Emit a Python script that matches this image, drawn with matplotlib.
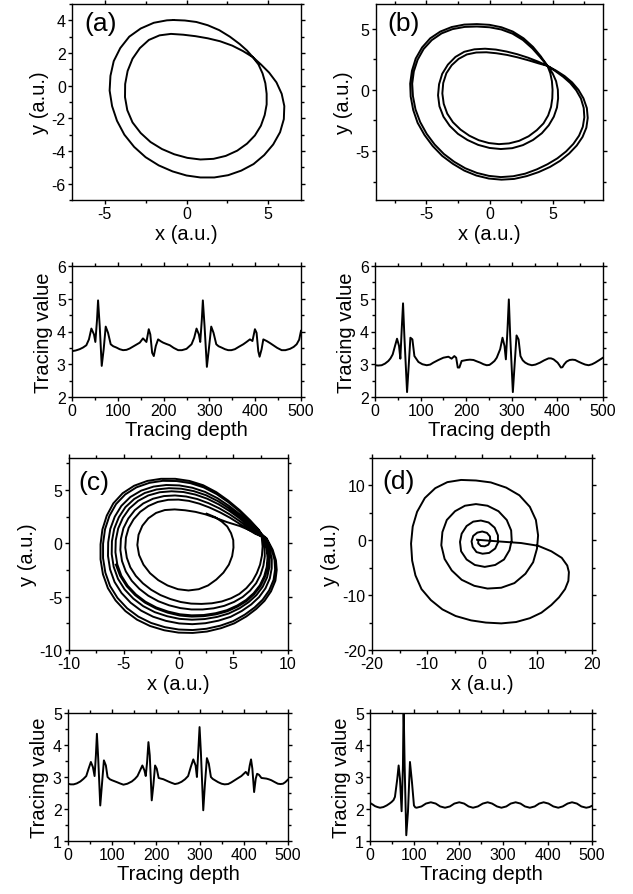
import matplotlib
matplotlib.use("Agg")
import matplotlib.pyplot as plt
from matplotlib.ticker import MultipleLocator

plt.rcParams['font.family'] = ['Liberation Sans', 'DejaVu Sans']
plt.rcParams['axes.unicode_minus'] = False

# ================= data: phase portraits =================
# (a) period-2 orbit: outer top -> inner loop -> outer loop
xa = [-0.8, -0.1, 0.6, 1.3, 2.0, 2.65, 3.25, 3.7, 4.05, 4.4, 4.65, 4.82, 4.9, 4.9, 4.78, 4.55,
      4.18, 3.7, 3.1, 2.4, 1.65, 0.85, 0.05, -0.75, -1.5, -2.2, -2.8, -3.3, -3.62, -3.76, -3.75,
      -3.6, -3.3, -2.85, -2.3, -1.65, -0.95, -0.2, 0.55, 1.3, 2.05, 2.8, 3.45, 4.05, 4.55, 5.05,
      5.5, 5.82, 5.98, 5.95, 5.72, 5.3, 4.75, 4.1, 3.35, 2.55, 1.7, 0.85, 0.0, -0.85, -1.7, -2.5,
      -3.2, -3.8, -4.25, -4.55, -4.7, -4.65, -4.45, -4.05, -3.5, -2.8, -2.0, -1.2, -0.8]
ya = [4.02, 3.99, 3.9, 3.7, 3.4, 3.0, 2.55, 2.15, 1.75, 1.3, 0.75, 0.15, -0.5, -1.15, -1.8, -2.45,
      -3.05, -3.55, -3.98, -4.3, -4.48, -4.52, -4.42, -4.2, -3.88, -3.45, -2.9, -2.25, -1.5, -0.7,
      0.1, 0.9, 1.65, 2.3, 2.8, 3.08, 3.17, 3.12, 3.03, 2.9, 2.72, 2.45, 2.12, 1.75, 1.3, 0.8,
      0.2, -0.5, -1.25, -2.05, -2.85, -3.6, -4.25, -4.8, -5.2, -5.48, -5.62, -5.62, -5.5, -5.25,
      -4.88, -4.38, -3.75, -3.0, -2.15, -1.25, -0.3, 0.6, 1.5, 2.3, 3.0, 3.5, 3.85, 4.0, 4.02]

# (b) period-4 orbit: crossing point, inner loop 1, outer loop 1, inner loop 2, outer loop 2
b_cross_x = [4.6]
b_cross_y = [1.95]
b_in1_x = [5.0, 5.28, 5.42, 5.44, 5.35, 5.1, 4.7, 4.15, 3.45, 2.65, 1.8, 0.9, 0.0, -0.9, -1.75,
           -2.5, -3.15, -3.65, -3.97, -4.08, -4.0, -3.75, -3.3, -2.7, -2.0, -1.2, -0.35, 0.5,
           1.35, 2.2, 3.05, 3.85, 4.6]
b_in1_y = [1.35, 0.7, 0.0, -0.7, -1.45, -2.2, -2.9, -3.55, -4.1, -4.52, -4.77, -4.84, -4.75,
           -4.5, -4.1, -3.6, -2.95, -2.2, -1.35, -0.45, 0.45, 1.3, 2.05, 2.68, 3.1, 3.3, 3.35,
           3.28, 3.12, 2.9, 2.62, 2.3, 1.95]
b_out1_x = [5.3, 5.95, 6.55, 7.05, 7.45, 7.72, 7.79, 7.68, 7.38, 6.92, 6.32, 5.6, 4.8, 3.9, 2.95,
            1.95, 0.95, -0.05, -1.05, -2.0, -2.9, -3.75, -4.5, -5.15, -5.7, -6.05, -6.25, -6.29,
            -6.15, -5.85, -5.35, -4.7, -3.9, -3.0, -2.0, -1.0, 0.0, 0.95, 1.85, 2.7, 3.45, 4.05, 4.6]
b_out1_y = [1.55, 1.12, 0.6, 0.0, -0.7, -1.5, -2.3, -3.1, -3.85, -4.55, -5.2, -5.8, -6.3, -6.72,
            -7.05, -7.28, -7.34, -7.25, -7.0, -6.6, -6.05, -5.4, -4.6, -3.7, -2.7, -1.65, -0.55,
            0.5, 1.55, 2.55, 3.45, 4.2, 4.75, 5.12, 5.32, 5.36, 5.3, 5.1, 4.75, 4.2, 3.5, 2.75, 1.95]
b_in2_x = [4.82, 4.95, 5.0, 4.98, 4.88, 4.65, 4.28, 3.75, 3.1, 2.35, 1.55, 0.75, -0.05, -0.85,
           -1.6, -2.3, -2.9, -3.35, -3.63, -3.74, -3.67, -3.42, -3.0, -2.45, -1.8, -1.05, -0.25,
           0.55, 1.4, 2.25, 3.1, 3.9, 4.6]
b_in2_y = [1.35, 0.7, 0.0, -0.7, -1.4, -2.1, -2.75, -3.3, -3.8, -4.17, -4.38, -4.44, -4.35,
           -4.12, -3.75, -3.25, -2.65, -1.95, -1.15, -0.3, 0.55, 1.35, 2.0, 2.52, 2.88, 3.04,
           3.06, 2.98, 2.84, 2.64, 2.4, 2.15, 1.95]
b_out2_x = [5.25, 5.85, 6.4, 6.88, 7.25, 7.47, 7.52, 7.4, 7.1, 6.65, 6.07, 5.38, 4.6, 3.75, 2.83,
            1.88, 0.9, -0.05, -1.0, -1.92, -2.8, -3.62, -4.35, -4.98, -5.5, -5.87, -6.07, -6.13,
            -6.0, -5.7, -5.22, -4.58, -3.8, -2.93, -1.97, -1.0, 0.0, 0.93, 1.82, 2.65, 3.4, 4.0, 4.6]
b_out2_y = [1.5, 1.05, 0.55, -0.05, -0.72, -1.48, -2.25, -3.02, -3.75, -4.42, -5.04, -5.6, -6.08,
            -6.5, -6.85, -7.06, -7.13, -7.03, -6.79, -6.41, -5.88, -5.24, -4.47, -3.6, -2.63,
            -1.6, -0.53, 0.5, 1.5, 2.45, 3.33, 4.05, 4.6, 4.95, 5.13, 5.16, 5.1, 4.92, 4.58, 4.06,
            3.37, 2.68, 1.95]

# (c) chaotic attractor: first small loop, then large loops of varying size
c_in_x = [2.58, 3.35, 3.95, 4.45, 4.8, 5.0, 5.02, 4.9, 4.6, 4.1, 3.45, 2.7, 1.85, 0.91, -0.05,
          -1.0, -1.85, -2.6, -3.2, -3.6, -3.76, -3.65, -3.3, -2.75, -2.05, -1.25, -0.35, 0.6,
          1.55, 2.45, 3.3, 4.4, 5.6, 6.8]
c_in_y = [2.78, 2.45, 2.04, 1.58, 0.95, 0.3, -0.4, -1.2, -2.0, -2.75, -3.4, -3.95, -4.3, -4.42,
          -4.3, -3.95, -3.45, -2.8, -2.0, -1.1, -0.15, 0.8, 1.65, 2.35, 2.85, 3.12, 3.18, 3.1,
          2.95, 2.72, 2.42, 2.0, 1.62, 1.1]
c_l1_x = [8.05, 8.6, 8.9, 8.97, 8.85, 8.45, 7.85, 7.1, 6.2, 5.1, 3.9, 2.6, 1.3, 0.0, -1.3, -2.6,
          -3.8, -4.85, -5.75, -6.45, -6.9, -7.12, -7.12, -6.95, -6.55, -5.95, -5.1, -4.05, -2.85,
          -1.6, -0.3, 1.0, 2.25, 3.45, 4.55, 5.6, 6.55, 7.35]
c_l1_y = [0.47, -0.6, -1.6, -2.5, -3.5, -4.5, -5.4, -6.15, -6.85, -7.5, -7.95, -8.27, -8.4, -8.37,
          -8.15, -7.75, -7.15, -6.35, -5.35, -4.2, -2.9, -1.5, -0.1, 1.3, 2.6, 3.75, 4.7, 5.4,
          5.85, 6.05, 6.05, 5.85, 5.45, 4.8, 4.0, 3.1, 2.15, 1.25]
c_l2_x = [8.0, 8.51, 8.77, 8.82, 8.68, 8.28, 7.69, 6.95, 6.06, 4.99, 3.82, 2.55, 1.29, 0.02, -1.25,
          -2.51, -3.67, -4.69, -5.57, -6.25, -6.68, -6.89, -6.89, -6.71, -6.31, -5.71, -4.87,
          -3.84, -2.66, -1.44, -0.18, 1.09, 2.31, 3.49, 4.57, 5.6, 6.53, 7.32]
c_l2_y = [0.48, -0.57, -1.56, -2.45, -3.43, -4.41, -5.28, -6.01, -6.68, -7.3, -7.72, -8.01, -8.13,
          -8.08, -7.86, -7.46, -6.87, -6.09, -5.12, -4.0, -2.75, -1.39, -0.04, 1.32, 2.57, 3.67,
          4.58, 5.25, 5.67, 5.86, 5.84, 5.64, 5.24, 4.61, 3.84, 2.98, 2.07, 1.22]
c_l3_x = [7.92, 8.32, 8.52, 8.51, 8.34, 7.94, 7.36, 6.64, 5.78, 4.76, 3.65, 2.45, 1.26, 0.06,
          -1.14, -2.32, -3.41, -4.37, -5.2, -5.84, -6.25, -6.44, -6.42, -6.23, -5.82, -5.22,
          -4.4, -3.41, -2.28, -1.12, 0.08, 1.27, 2.43, 3.56, 4.6, 5.59, 6.49, 7.25]
c_l3_y = [0.51, -0.51, -1.47, -2.35, -3.29, -4.22, -5.04, -5.73, -6.34, -6.89, -7.25, -7.49,
          -7.58, -7.51, -7.27, -6.88, -6.31, -5.57, -4.66, -3.62, -2.44, -1.17, 0.1, 1.35, 2.5,
          3.51, 4.34, 4.94, 5.32, 5.47, 5.43, 5.21, 4.82, 4.23, 3.52, 2.73, 1.9, 1.15]
c_l4_x = [7.85, 8.19, 8.32, 8.29, 8.09, 7.69, 7.11, 6.4, 5.57, 4.58, 3.52, 2.38, 1.23, 0.09,
          -1.05, -2.17, -3.22, -4.13, -4.92, -5.53, -5.92, -6.1, -6.08, -5.87, -5.45, -4.85,
          -4.04, -3.08, -2.0, -0.88, 0.26, 1.41, 2.52, 3.61, 4.62, 5.58, 6.46, 7.19]
c_l4_y = [0.53, -0.47, -1.4, -2.28, -3.19, -4.07, -4.86, -5.52, -6.09, -6.58, -6.9, -7.1, -7.16,
          -7.08, -6.83, -6.45, -5.89, -5.18, -4.32, -3.32, -2.2, -1.01, 0.19, 1.37, 2.44, 3.39,
          4.16, 4.72, 5.05, 5.17, 5.12, 4.89, 4.51, 3.95, 3.28, 2.54, 1.77, 1.09]
c_l5_x = [7.78, 8.05, 8.13, 8.06, 7.83, 7.43, 6.86, 6.17, 5.36, 4.41, 3.39, 2.3, 1.21, 0.12,
          -0.97, -2.03, -3.02, -3.89, -4.64, -5.22, -5.59, -5.76, -5.73, -5.51, -5.08, -4.48,
          -3.69, -2.76, -1.71, -0.64, 0.45, 1.54, 2.61, 3.66, 4.64, 5.57, 6.43, 7.14]
c_l5_y = [0.55, -0.42, -1.33, -2.2, -3.08, -3.93, -4.68, -5.31, -5.83, -6.27, -6.55, -6.72, -6.75,
          -6.65, -6.39, -6.01, -5.47, -4.79, -3.97, -3.03, -1.97, -0.84, 0.29, 1.39, 2.39, 3.27,
          3.98, 4.49, 4.79, 4.88, 4.81, 4.57, 4.19, 3.66, 3.04, 2.35, 1.64, 1.04]
c_l6_x = [7.69, 7.86, 7.88, 7.75, 7.49, 7.09, 6.53, 5.86, 5.08, 4.18, 3.22, 2.2, 1.18, 0.16,
          -0.86, -1.84, -2.76, -3.57, -4.27, -4.81, -5.16, -5.31, -5.26, -5.03, -4.59, -3.99,
          -3.22, -2.33, -1.33, -0.32, 0.7, 1.72, 2.73, 3.73, 4.67, 5.56, 6.39, 7.07]
c_l6_y = [0.57, -0.36, -1.24, -2.1, -2.94, -3.74, -4.44, -5.03, -5.49, -5.86, -6.09, -6.2, -6.2,
          -6.07, -5.81, -5.43, -4.91, -4.27, -3.51, -2.64, -1.66, -0.62, 0.42, 1.42, 2.32, 3.11,
          3.74, 4.18, 4.43, 4.49, 4.39, 4.15, 3.77, 3.28, 2.72, 2.1, 1.47, 0.97]
c_l7_x = [7.6, 7.68, 7.62, 7.45, 7.15, 6.75, 6.2, 5.55, 4.8, 3.95, 3.05, 2.1, 1.15, 0.2, -0.75,
          -1.65, -2.5, -3.25, -3.9, -4.4, -4.72, -4.86, -4.8, -4.55, -4.1, -3.5, -2.75, -1.9,
          -0.95, 0.0, 0.95, 1.9, 2.85, 3.8, 4.7, 5.55, 6.35, 7.0]
c_l7_y = [0.6, -0.3, -1.15, -2.0, -2.8, -3.55, -4.2, -4.75, -5.15, -5.45, -5.62, -5.68, -5.65,
          -5.5, -5.22, -4.85, -4.35, -3.75, -3.05, -2.25, -1.35, -0.4, 0.55, 1.45, 2.25, 2.95,
          3.5, 3.88, 4.08, 4.1, 3.98, 3.72, 3.35, 2.9, 2.4, 1.85, 1.3, 0.9]
c_end_x = [7.82, 8.1, 8.2, 8.13, 7.9, 7.5, 6.93, 6.24, 5.42, 4.46, 3.43, 2.32, 1.22, 0.12, -0.99,
           -2.07, -3.08, -3.97, -4.73, -5.33, -5.72]
c_end_y = [0.54, -0.44, -1.36, -2.24, -3.13, -3.99, -4.75, -5.39, -5.92, -6.37, -6.66, -6.83,
           -6.87, -6.77, -6.5, -6.1, -5.55, -4.85, -4.02, -3.05, -2.0]

# (d) trajectory spiralling into the fixed point
xd = [-0.9, 2.9, 7.1, 10.2, 12.6, 14.5, 15.5, 15.8, 15.7, 15.1, 14.0, 12.6, 10.8, 8.7, 6.2, 3.5,
      0.7, -2.0, -4.8, -7.2, -9.3, -11.0, -12.1, -12.7, -12.9, -12.6, -11.8, -10.4, -8.5, -6.3,
      -3.8, -1.1, 1.6, 4.4, 6.8, 8.7, 9.8, 10.2, 10.0, 9.3, 7.9, 5.9, 3.5, 1.0, -1.4, -3.7,
      -5.5, -6.8, -7.4, -7.2, -6.4, -4.9, -3.1, -1.1, 1.0, 3.0, 4.5, 5.3, 5.4, 5.0, 4.0, 2.4,
      0.5, -1.3, -2.8, -3.8, -4.0, -3.7, -2.8, -1.6, -0.2, 1.2, 2.3, 2.9, 2.9, 2.4, 1.3, 0.1,
      -1.0, -1.7, -1.9, -1.6, -0.85, 0.05, 0.9, 1.45, 1.5, 1.15, 0.5, -0.2, -0.7, -0.65]
yd = [0.1, -0.2, -0.5, -1.0, -2.0, -3.2, -4.6, -5.8, -7.4, -8.9, -10.4, -11.8, -13.2, -14.2,
      -14.9, -15.15, -15.0, -14.6, -13.8, -12.6, -10.9, -8.9, -6.4, -3.7, -0.6, 2.5, 5.2, 7.7,
      9.5, 10.6, 11.0, 10.9, 10.55, 9.6, 8.2, 6.1, 3.7, 0.9, -1.5, -4.0, -6.1, -7.8, -8.65,
      -8.8, -8.3, -7.2, -5.5, -3.4, -0.9, 1.5, 3.7, 5.3, 6.3, 6.6, 6.3, 5.3, 3.7, 1.8, 0.0,
      -1.8, -3.5, -4.5, -4.85, -4.5, -3.5, -2.0, -0.3, 1.2, 2.6, 3.4, 3.6, 3.25, 2.3, 0.9, -0.4,
      -1.5, -2.3, -2.45, -2.15, -1.2, -0.2, 0.8, 1.4, 1.6, 1.35, 0.7, -0.1, -0.8, -1.1, -1.05,
      -0.55, 0.05]

# ================= data: tracing series =================
ta = [0, 8, 16.8, 24, 31.3, 37, 42.3, 48, 51, 54.7, 56.9, 60.5, 64.9, 69.2, 73.6, 78.7, 84.5,
      90, 97, 104, 111.5, 119, 126, 137, 148, 155, 162.5, 167.6, 171, 175, 178.6, 183, 188, 194,
      199, 206, 213.6, 222, 231.8, 240, 250, 261, 266.8, 271.9, 277, 280, 283.5, 285.7, 289.4,
      294.5, 298.8, 304, 309, 315, 320, 326.5, 334, 341, 348, 355.7, 364, 374, 381, 388.5, 394,
      399.4, 403, 406.7, 409.6, 414, 417.7, 425, 432, 439.5, 448, 457.8, 466, 476, 484, 490.5,
      496, 500]
va = [3.40, 3.42, 3.46, 3.51, 3.58, 3.76, 4.09, 3.91, 3.68, 4.37, 4.95, 4.17, 2.95, 3.46, 4.15,
      3.96, 3.61, 3.55, 3.51, 3.46, 3.43, 3.44, 3.48, 3.57, 3.66, 3.79, 3.68, 4.07, 3.91, 3.35,
      3.25, 3.56, 3.76, 3.70, 3.66, 3.62, 3.58, 3.50, 3.43, 3.43, 3.47, 3.61, 3.81, 4.09, 3.91,
      3.68, 4.37, 4.95, 4.17, 2.92, 3.46, 4.15, 3.96, 3.61, 3.55, 3.51, 3.46, 3.43, 3.43, 3.46,
      3.53, 3.61, 3.68, 3.76, 3.71, 4.07, 3.96, 3.40, 3.23, 3.46, 3.76, 3.71, 3.65, 3.58, 3.50,
      3.43, 3.43, 3.47, 3.53, 3.61, 3.75, 4.02]

tb = [0, 7, 14.6, 22, 29.3, 34, 38.8, 43.9, 48.3, 52.7, 55.6, 58.6, 61.5, 64.4, 70.3, 73.9, 77.6,
      82, 86.4, 95.2, 104, 113.5, 121, 128, 139, 150, 161, 168, 174, 178, 181.5, 185, 190, 201,
      208, 216, 223, 230.6, 238, 245, 251, 256, 262, 267, 274.5, 279.6, 284, 287, 290.6, 293.5,
      296.5, 302.3, 306, 310.4, 314.8, 319, 324, 329.4, 336, 344, 352, 362, 371, 380.6, 386,
      391.6, 396, 400.4, 404, 407.7, 411, 415, 420, 426.8, 433, 439, 446, 453.8, 461, 468.5, 476,
      483, 491, 500]
vb = [2.97, 2.96, 2.97, 3.02, 3.10, 3.18, 3.30, 3.56, 3.78, 3.56, 3.17, 4.07, 4.86, 3.86, 2.15,
      2.95, 3.81, 3.76, 3.25, 3.07, 3.00, 2.97, 2.99, 3.05, 3.13, 3.20, 3.23, 3.17, 3.25, 3.20,
      2.90, 2.90, 3.10, 3.13, 3.14, 3.13, 3.09, 3.05, 3.00, 2.97, 2.98, 3.03, 3.10, 3.20, 3.46,
      3.81, 3.56, 3.15, 4.07, 4.98, 3.86, 2.15, 2.95, 3.88, 3.76, 3.25, 3.12, 3.05, 3.00, 2.97,
      2.99, 3.05, 3.12, 3.18, 3.18, 3.15, 3.10, 3.05, 2.98, 2.90, 2.91, 3.00, 3.08, 3.13, 3.14,
      3.13, 3.08, 3.03, 2.99, 2.97, 3.00, 3.05, 3.12, 3.20]

tc = [0, 6, 12.8, 20, 28, 35, 41.5, 46.8, 52, 56.6, 60.4, 63.4, 65.7, 68.7, 73.3, 77, 81.6, 86.1,
      89.9, 95, 99.7, 111, 118, 126, 135, 145, 152, 157.9, 164, 169, 173.6, 176.7, 179.8, 182.8,
      185.8, 190.3, 194, 197.9, 201.7, 206, 211, 216.8, 228, 235, 243, 250, 258, 266, 273, 279,
      284.8, 290, 293, 296, 299, 302, 307.4, 311, 315.7, 320, 324.8, 329, 333.8, 341, 349, 356,
      364, 371, 379, 387, 394, 404, 409.4, 413, 416, 419, 423, 426.7, 429.8, 434, 439.6, 451,
      456, 462, 470, 477, 483, 488.7, 494, 500]
vc = [2.79, 2.77, 2.77, 2.80, 2.86, 2.94, 3.03, 3.26, 3.47, 3.31, 3.03, 3.68, 4.35, 3.57, 2.11,
      2.74, 3.52, 3.36, 3.00, 2.93, 2.90, 2.84, 2.80, 2.76, 2.79, 2.86, 2.94, 3.03, 3.21, 3.36,
      3.21, 3.03, 3.47, 4.09, 3.68, 2.27, 2.74, 3.36, 3.26, 2.97, 2.95, 2.93, 2.86, 2.82, 2.78,
      2.80, 2.85, 2.93, 3.03, 3.31, 3.55, 3.36, 3.00, 3.78, 4.56, 3.78, 1.96, 2.74, 3.59, 3.42,
      3.00, 2.94, 2.90, 2.84, 2.79, 2.77, 2.78, 2.83, 2.90, 2.97, 3.03, 3.16, 3.06, 3.36, 3.55,
      3.26, 2.53, 2.95, 3.10, 3.07, 2.97, 2.95, 2.93, 2.90, 2.84, 2.79, 2.78, 2.79, 2.84, 2.92]

td = [0, 6, 11.2, 17, 22.5, 30, 37.5, 44, 48.7, 53, 56.2, 61.5, 64.5, 67.5, 71.2, 74.2, 75.7,
      78, 81.7, 85.5, 90, 94.5, 99, 102, 105, 116, 126, 137, 148, 158, 169, 180, 190, 201, 212,
      222, 232, 243, 254, 265, 275, 286, 296, 307, 317, 328, 339, 349, 360, 371, 381, 391, 402,
      413, 424, 434, 445, 455, 466, 476, 487, 494, 500]
vd = [2.19, 2.14, 2.09, 2.06, 2.04, 2.06, 2.11, 2.17, 2.22, 2.28, 2.38, 2.95, 3.36, 2.95, 1.93,
      3.36, 5.3, 3.36, 1.18, 1.91, 3.47, 2.84, 2.11, 2.05, 2.04, 2.08, 2.17, 2.21, 2.17, 2.08,
      2.04, 2.08, 2.17, 2.21, 2.17, 2.08, 2.04, 2.08, 2.17, 2.21, 2.17, 2.08, 2.04, 2.08, 2.17,
      2.21, 2.17, 2.08, 2.04, 2.08, 2.17, 2.21, 2.17, 2.08, 2.04, 2.08, 2.17, 2.21, 2.17, 2.08,
      2.04, 2.06, 2.10]

panel_labels = ['(a)', '(b)', '(c)', '(d)']

# assemble continuous trajectories
xb = b_cross_x + b_in1_x + b_out1_x + b_in2_x + b_out2_x
yb = b_cross_y + b_in1_y + b_out1_y + b_in2_y + b_out2_y
xc = c_in_x + c_l3_x + c_l1_x + c_l5_x + c_l2_x + c_l6_x + c_l4_x + c_l7_x + c_end_x
yc = c_in_y + c_l3_y + c_l1_y + c_l5_y + c_l2_y + c_l6_y + c_l4_y + c_l7_y + c_end_y

# ================= figure =================
W, H = 633, 895
fig = plt.figure(figsize=(W / 100, H / 100), dpi=100)


def box(l, r, t, b):
    return [l / W, 1 - b / H, (r - l) / W, (b - t) / H]


LW = 1.4
TICK_FS = 11.5
LAB_FS = 14.5


def style(ax, xlim, ylim, xmaj, xmin, ymaj, ymin):
    ax.set_xlim(*xlim)
    ax.set_ylim(*ylim)
    ax.xaxis.set_major_locator(MultipleLocator(xmaj))
    ax.xaxis.set_minor_locator(MultipleLocator(xmin))
    ax.yaxis.set_major_locator(MultipleLocator(ymaj))
    ax.yaxis.set_minor_locator(MultipleLocator(ymin))
    ax.tick_params(which='both', direction='out', top=True, right=True,
                   labelsize=TICK_FS, width=1.0, pad=1.5)
    ax.tick_params(which='major', length=3.0)
    ax.tick_params(which='minor', length=2.0)
    for s in ax.spines.values():
        s.set_linewidth(1.0)


def phase(rect, x, y, xlim, ylim, xmaj, xmin, ymaj, ymin, label, lx, ly):
    ax = fig.add_axes(rect)
    ax.plot(x, y, color='black', lw=LW, solid_joinstyle='round')
    style(ax, xlim, ylim, xmaj, xmin, ymaj, ymin)
    ax.set_xlabel('x (a.u.)', fontsize=LAB_FS, labelpad=2)
    ax.set_ylabel('y (a.u.)', fontsize=LAB_FS, labelpad=2)
    ax.text(lx, ly, label, transform=ax.transAxes, fontsize=19, va='top', ha='left')
    return ax


def trace(rect, t, v, ylim):
    ax = fig.add_axes(rect)
    ax.plot(t, v, color='black', lw=LW, solid_joinstyle='round')
    style(ax, (0, 500), ylim, 100, 50, 1, 0.5)
    ax.set_xlabel('Tracing depth', fontsize=LAB_FS, labelpad=1)
    ax.set_ylabel('Tracing value', fontsize=LAB_FS, labelpad=3)
    return ax


phase(box(72, 301, 5, 201), xa, ya, (-7, 7), (-7, 5), 5, 2.5, 2, 1, panel_labels[0], 0.055, 0.965)
phase(box(376, 603, 5, 201), xb, yb, (-9, 9), (-9, 7), 5, 2.5, 5, 2.5, panel_labels[1], 0.05, 0.965)
trace(box(72, 301, 267, 398), ta, va, (2, 6))
trace(box(375, 603, 267, 398), tb, vb, (2, 6))
phase(box(69, 288, 459, 651), xc, yc, (-10, 10), (-10, 8), 5, 2.5, 5, 2.5, panel_labels[2], 0.045, 0.935)
phase(box(372, 592, 459, 651), xd, yd, (-20, 20), (-20, 15), 10, 5, 10, 5, panel_labels[3], 0.045, 0.945)
trace(box(68, 288, 714, 842), tc, vc, (1, 5))
trace(box(370, 592, 714, 842), td, vd, (1, 5))

fig.savefig('out.png', dpi=100)
